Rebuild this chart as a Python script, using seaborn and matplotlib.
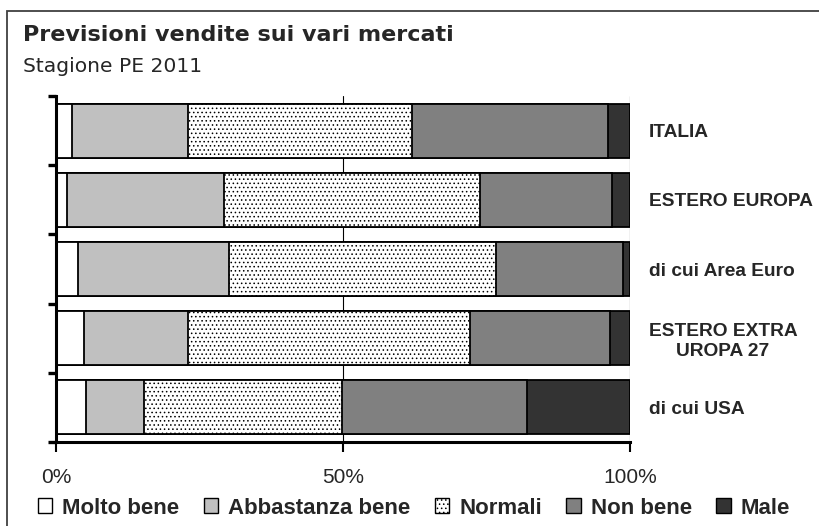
import numpy as np
import pandas as pd
import seaborn as sns
import matplotlib.pyplot as plt
from matplotlib.patches import Patch, Rectangle

# Data (percent of answers per market)
markets = ['ITALIA', 'ESTERO EUROPA', 'di cui Area Euro',
           'ESTERO EXTRA\nUROPA 27', 'di cui USA']
molto_bene = [2.8, 2.0, 3.9, 4.9, 5.2]
abbastanza_bene = [20.2, 27.3, 26.3, 18.1, 10.2]
normali = [39.0, 44.5, 46.5, 49.2, 34.5]
non_bene = [34.1, 23.0, 22.0, 24.3, 32.1]
male = [3.9, 3.2, 1.3, 3.5, 18.0]

series_names = ['Molto bene', 'Abbastanza bene', 'Normali', 'Non bene', 'Male']
series_colors = ['#ffffff', '#c0c0c0', '#ffffff', '#808080', '#333333']
series_hatch = [None, None, '....', None, None]
x_ticks = [0, 50, 100]
x_labels = ['0%', '50%', '100%']


def build_frame():
    '''
    Puts the series into one data frame and adds the cumulative sums
    used to stack the bars.
    '''
    df = pd.DataFrame({'Mercato': markets,
                       'Molto bene': molto_bene,
                       'Abbastanza bene': abbastanza_bene,
                       'Normali': normali,
                       'Non bene': non_bene,
                       'Male': male})
    cum = df[series_names].cumsum(axis=1)
    for name in series_names:
        df['cum_' + name] = cum[name]
    return df


def main():
    sns.set_theme(style='white')
    plt.rcParams['font.family'] = ['Liberation Sans', 'DejaVu Sans']
    plt.rcParams['hatch.linewidth'] = 0.6

    df = build_frame()

    fig = plt.figure(figsize=(8.2, 5.26), dpi=100)
    fig.patch.set_facecolor('white')
    # outer frame of the original chart (only left and top visible)
    fig.patches.append(Rectangle((7 / 820, -0.1), 1.2, 1 - 11 / 526 + 0.1,
                                 transform=fig.transFigure, fill=False,
                                 edgecolor='#404040', linewidth=1.3,
                                 clip_on=False))

    ax = fig.add_axes([56 / 820, 84 / 526, 574 / 820, 346 / 526])

    # stacked bars: draw cumulative totals from the largest down
    for i in reversed(range(len(series_names))):
        name = series_names[i]
        kw = {}
        if series_hatch[i]:
            kw['hatch'] = series_hatch[i]
        sns.barplot(data=df, x='cum_' + name, y='Mercato', ax=ax,
                    color=series_colors[i], saturation=1, width=0.78,
                    edgecolor='black', linewidth=1.3, errorbar=None,
                    orient='h', **kw)

    ax.set_xlim(0, 100)
    ax.set_ylim(4.5, -0.5)
    ax.set_xlabel('')
    ax.set_ylabel('')
    ax.set_axisbelow(True)
    ax.xaxis.grid(True, color='black', linewidth=0.8)
    ax.yaxis.grid(False)

    for side in ['top', 'right']:
        ax.spines[side].set_visible(False)
    for side in ['left', 'bottom']:
        ax.spines[side].set_color('black')
        ax.spines[side].set_linewidth(2.2)

    ax.set_xticks(x_ticks)
    ax.set_xticklabels(x_labels)
    ax.tick_params(axis='x', bottom=True, length=7, width=1.5,
                   color='black', labelsize=15, pad=12)

    # category labels on the right, ticks between categories on the left
    ax.set_yticks(np.arange(-0.5, 5, 1), minor=True)
    ax.tick_params(axis='y', which='minor', left=True, length=6, width=2.4,
                   color='black')
    ax.tick_params(axis='y', which='major', left=False, right=False,
                   labelleft=False, labelright=True, labelsize=13.8,
                   pad=7.5)
    for lab in ax.get_yticklabels():
        lab.set_fontweight('bold')
        lab.set_multialignment('center')

    fig.text(23 / 820, 1 - 41 / 526, 'Previsioni vendite sui vari mercati',
             fontsize=16, fontweight='bold', family='DejaVu Sans',
             va='baseline', ha='left')
    fig.text(23 / 820, 1 - 72 / 526, 'Stagione PE 2011', fontsize=14.6,
             family='DejaVu Sans', va='baseline', ha='left')

    handles = [Patch(facecolor=series_colors[i], edgecolor='black',
                     linewidth=1.0, hatch=series_hatch[i],
                     label=series_names[i])
               for i in range(len(series_names))]
    fig.legend(handles=handles, loc='center', ncol=5,
               bbox_to_anchor=(414 / 820, 1 - 508 / 526), frameon=False,
               prop={'weight': 'bold', 'size': 16}, handlelength=0.65,
               handleheight=0.65, handletextpad=0.45, columnspacing=1.1,
               borderpad=0, borderaxespad=0)

    fig.savefig('out.png', dpi=100, facecolor='white')


if __name__ == '__main__':
    main()
